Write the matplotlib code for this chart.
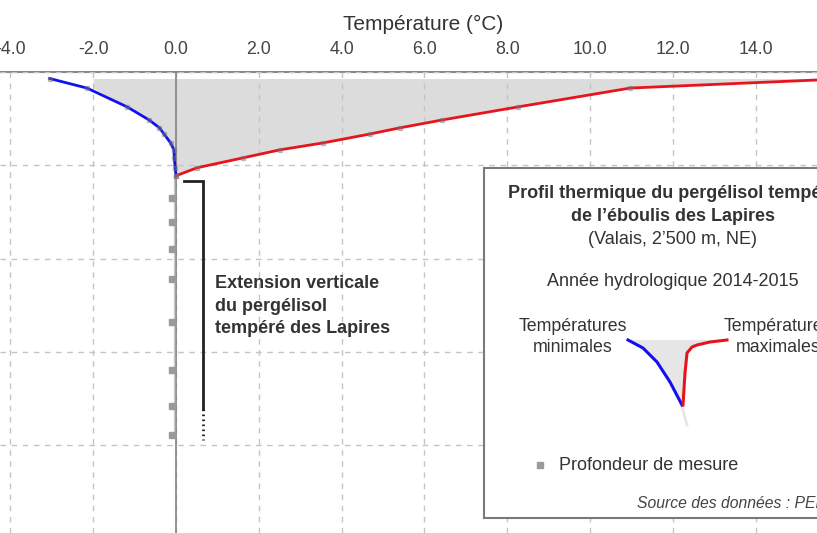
import numpy as np
import matplotlib
matplotlib.use("Agg")
import matplotlib.pyplot as plt
from matplotlib.patches import Rectangle

plt.rcParams['font.family'] = ['Liberation Sans', 'DejaVu Sans']

# sensor depths (m) in the active layer / upper permafrost
depth_top = [0.35, 0.86, 1.87, 2.57, 2.99, 3.32, 3.80, 4.17, 4.60, 5.13, 5.56]
t_min = [-3.05, -2.15, -1.18, -0.65, -0.40, -0.29, -0.13, -0.05, -0.04, -0.02, 0.0]
t_max = [16.3, 10.97, 8.26, 6.43, 5.41, 4.69, 3.55, 2.51, 1.62, 0.51, 0.0]

# deeper sensors, all close to 0 degC
depth_deep = [6.74, 8.02, 9.47, 11.07, 13.42, 15.94, 17.91, 19.47]
t_deep = [-0.05, -0.05, -0.05, -0.05, -0.05, -0.05, -0.05, -0.05]

# vertical extension of the temperate permafrost (m)
pf_top = 5.83
pf_base = 18.07
pf_base_uncertain = 19.7

xticks = [-4.0, -2.0, 0.0, 2.0, 4.0, 6.0, 8.0, 10.0, 12.0, 14.0]
yticks = [0, 5, 10, 15, 20]

BLUE = "#1010f0"
RED = "#e8141c"
FILL = "#dcdcdc"
TXT = "#333333"

W, H = 817, 533
fig = plt.figure(figsize=(W / 100, H / 100), dpi=100)
ax = fig.add_axes([0, 0, 1, 461 / H])

ax.set_xlim(-4.25, 15.48)
ax.set_ylim(24.7, 0)

ax.fill_betweenx(depth_top, np.maximum(t_min, -2.0), t_max, color=FILL,
                 lw=0, zorder=1)
ax.set_axisbelow(False)
ax.grid(True, ls=(0, (4, 4)), color="#c4c4c4", lw=1.0, zorder=2)
ax.axvline(0, color="#8a8a8a", lw=1.3, zorder=2.6)

# deep profile
ax.plot([-0.05] + t_deep, [depth_top[-1]] + depth_deep, color="#cccccc",
        lw=1.0, zorder=2.7)
ax.plot([-0.1] * len(depth_deep), depth_deep, ls="none", marker="s",
        ms=5, color="#9a9a9a", zorder=2.8)

ax.plot(t_min, depth_top, color=BLUE, lw=2.0, zorder=4)
ax.plot(t_max, depth_top, color=RED, lw=2.0, zorder=4)
ax.plot(t_min + t_max, depth_top + depth_top, ls="none", marker="s", ms=2.2,
        color="#777777", alpha=0.4, zorder=5)

# permafrost bracket
ax.plot([0.19, 0.65, 0.65], [pf_top, pf_top, pf_base], color="#222222",
        lw=2.0, zorder=4, solid_joinstyle="miter")
ax.plot([0.65, 0.65], [pf_base, pf_base_uncertain], color="#222222", lw=2.0,
        ls=(0, (0.6, 1.2)), zorder=4)
ax.text(0.94, 12.55, "Extension verticale\ndu pergélisol\ntempéré des Lapires",
        ha="left", va="center", fontsize=13, fontweight="bold", color=TXT,
        linespacing=1.42, zorder=4)

ax.xaxis.tick_top()
ax.set_xticks(xticks)
ax.set_xticklabels(["%.1f" % v for v in xticks])
ax.set_yticks(yticks)
ax.set_yticklabels([])
ax.tick_params(axis="x", length=0, pad=10, labelsize=12.8, labelcolor="#444444")
ax.tick_params(axis="y", length=0)
for side in ["left", "right", "bottom"]:
    ax.spines[side].set_visible(False)
ax.spines["top"].set_color("#8a8a8a")
ax.spines["top"].set_linewidth(1.5)
ax.xaxis.set_label_position("top")
ax.set_xlabel("Température (°C)", fontsize=15, color=TXT)
ax.xaxis.set_label_coords(423 / W, 1 + (72 - 30) / 461)


def fx(px):
    return px / W


def fy(py):
    return 1 - py / H


# legend box
box = Rectangle((fx(484), fy(518)), fx(862) - fx(484), fy(168) - fy(518),
                transform=fig.transFigure, facecolor="white",
                edgecolor="#7a7a7a", lw=1.5, zorder=10)
fig.patches.append(box)

fig.text(fx(673), fy(205), "Profil thermique du pergélisol tempéré\nde l’éboulis des Lapires",
         ha="center", va="center", fontsize=13, fontweight="bold", color=TXT,
         linespacing=1.5, zorder=11)
fig.text(fx(673), fy(240), "(Valais, 2’500 m, NE)", ha="center", va="center",
         fontsize=13, color=TXT, zorder=11)
fig.text(fx(673), fy(282), "Année hydrologique 2014-2015", ha="center",
         va="center", fontsize=13, color=TXT, zorder=11)
fig.text(fx(573), fy(337), "Températures\nminimales", ha="center",
         va="center", fontsize=12.8, color=TXT, linespacing=1.35, zorder=11)
fig.text(fx(778), fy(337), "Températures\nmaximales", ha="center",
         va="center", fontsize=12.8, color=TXT, linespacing=1.35, zorder=11)
fig.text(fx(559), fy(465), "Profondeur de mesure", ha="left", va="center",
         fontsize=13, color=TXT, zorder=11)
fig.text(fx(637), fy(503), "Source des données : PERMOS", ha="left",
         va="center", fontsize=11.3, style="italic", color="#444444", zorder=11)

# small profile glyph for the legend
gx = fig.add_axes([fx(615), fy(435), fx(745) - fx(615), fy(330) - fy(435)])
gx.set_xlim(615, 745)
gx.set_ylim(435, 330)
gx.axis("off")
gx.set_zorder(12)
glyph_blue_x = [628, 643, 657, 670, 682]
glyph_blue_y = [340, 348, 362, 382, 405]
glyph_red_x = [683, 685, 687, 692, 697, 710, 727]
glyph_red_y = [405, 373, 353, 347, 345, 342, 340]
gx.fill(glyph_blue_x + glyph_red_x, glyph_blue_y + glyph_red_y,
        color="#e6e6e6", lw=0)
gx.plot([682, 687], [407, 425], color="#e6e6e6", lw=2.0)
gx.plot(glyph_blue_x, glyph_blue_y, color=BLUE, lw=2.2)
gx.plot(glyph_red_x, glyph_red_y, color=RED, lw=2.2)

sq = fig.add_axes([fx(533), fy(472), fx(547) - fx(533), fy(458) - fy(472)])
sq.set_xlim(0, 1)
sq.set_ylim(0, 1)
sq.axis("off")
sq.set_zorder(12)
sq.plot([0.5], [0.5], marker="s", ms=5, color="#9a9a9a")

fig.savefig("out.png", dpi=100)
